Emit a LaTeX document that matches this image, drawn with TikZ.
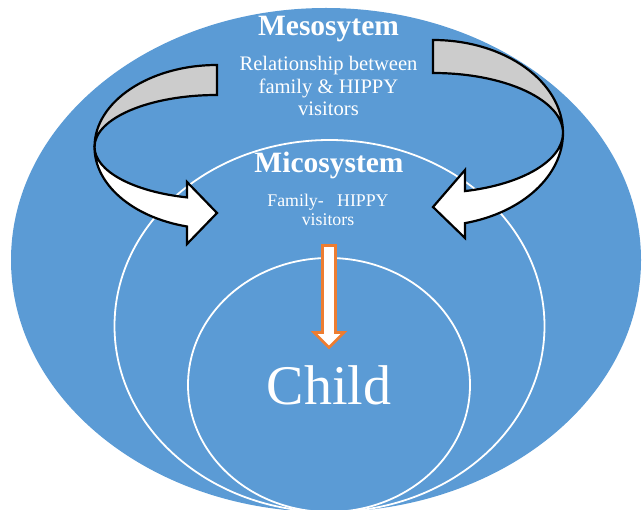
\documentclass[tikz,border=0pt]{standalone}
\usepackage{fontspec}
\setmainfont{Liberation Serif}
\usetikzlibrary{shapes.geometric}
\definecolor{skyblue}{RGB}{91,155,213}
\definecolor{bandgray}{RGB}{204,204,204}
\definecolor{orangeline}{RGB}{237,125,49}
\tikzset{
  ring/.style={ellipse, draw=white, line width=1.8pt, inner sep=0pt},
  backband/.style={fill=bandgray, draw=black, line width=2.2pt, line join=miter},
  frontband/.style={fill=white, draw=black, line width=2.2pt, line join=miter},
  downarrow/.style={fill=white, draw=orangeline, line width=2.6pt, line join=miter},
  lbl/.style={text=white, inner sep=0pt}
}
\begin{document}
\begin{tikzpicture}[x=1pt,y=1pt]
\useasboundingbox (0,0) rectangle (642,509);
\begin{scope}
\clip (0,0) rectangle (642,509);
\node[ellipse, fill=skyblue, draw=none, inner sep=0pt, minimum width=630pt, minimum height=504pt] (exo) at (326,249) {};
\node[ring, minimum width=430pt, minimum height=372pt] (micro) at (329.5,183) {};
\node[ring, minimum width=282pt, minimum height=254pt] (childring) at (329,124) {};
\end{scope}

% left curved arrow
\filldraw[backband] (217,444) arc[start angle=90,end angle=180,x radius=122.5pt,y radius=82pt]
  arc[start angle=180,end angle=90,x radius=122.5pt,y radius=52pt] -- cycle;
\filldraw[frontband] (94.5,362) arc[start angle=180,end angle=255.8,x radius=122.5pt,y radius=82pt]
  -- (187,265) -- (217,296) -- (187,327) -- (187,311.6)
  arc[start angle=255.8,end angle=180,x radius=122.5pt,y radius=52pt] -- cycle;

% right curved arrow
\filldraw[backband] (433,469) arc[start angle=90,end angle=0,x radius=130pt,y radius=93pt]
  arc[start angle=0,end angle=90,x radius=130pt,y radius=60pt] -- cycle;
\filldraw[frontband] (563,376) arc[start angle=0,end angle=-75.75,x radius=130pt,y radius=93pt]
  -- (465,271) -- (433,302) -- (465,339) -- (465,317.9)
  arc[start angle=-75.75,end angle=0,x radius=130pt,y radius=60pt] -- cycle;

% orange down arrow
\filldraw[downarrow] (322.5,263.5) -- (335.5,263.5) -- (335.5,176.5) -- (344,176.5) -- (329,161.5) -- (314,176.5) -- (322.5,176.5) -- cycle;

% texts (multi-line nodes: base anchor = last line's baseline)
\node[lbl, font=\bfseries\fontsize{29.5}{32}\selectfont, anchor=base] (meso) at (328.5,473) {Mesosytem};
\node[lbl, font=\fontsize{20.6}{22.5}\selectfont, align=center, anchor=base] (mesotxt) at (328.5,393) {Relationship between\\family \& HIPPY\\visitors};
\node[lbl, font=\bfseries\fontsize{29.5}{32}\selectfont, anchor=base] (micolbl) at (329,336) {Micosystem};
\node[lbl, font=\fontsize{17.8}{19.5}\selectfont, align=center, anchor=base] (micotxt) at (328,283) {Family-\ \ \ HIPPY\\visitors};
\node[lbl, font=\fontsize{56}{60}\selectfont, anchor=base] (child) at (329,105) {Child};
\end{tikzpicture}
\end{document}
